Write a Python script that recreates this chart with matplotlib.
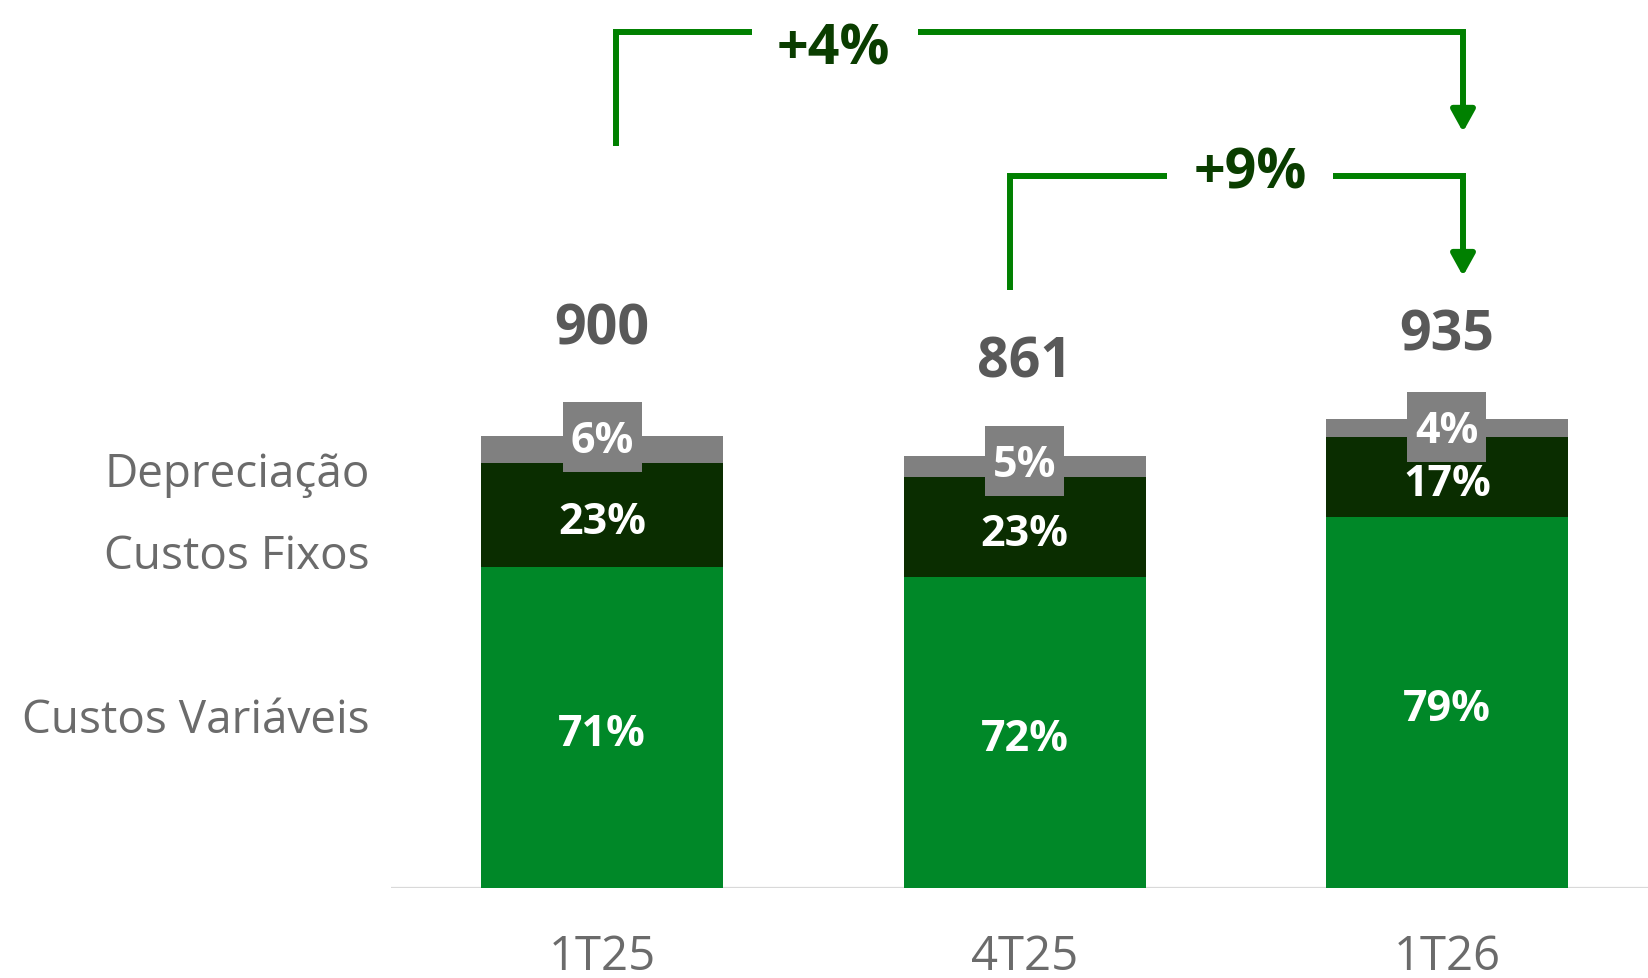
import matplotlib
matplotlib.use('Agg')
import matplotlib.pyplot as plt
from matplotlib.patches import Rectangle
from matplotlib.transforms import blended_transform_factory, offset_copy

# data
periods = ['1T25', '4T25', '1T26']
totals = [900, 861, 935]
var_share = [71, 72, 79]
fix_share = [23, 23, 17]
dep_share = [6, 5, 4]
series_names = ['Custos Variáveis', 'Custos Fixos', 'Depreciação']
growth_labels = ['+4%', '+9%']

# styling
GREEN = '#008828'
DARK = '#0A2D00'
GRAY = '#808080'
LINE_GREEN = '#008000'
TEXT_GREEN = '#0A3D00'
LABEL_GRAY = '#6B6B6B'
TOTAL_GRAY = '#595959'
FONT = 'Open Sans'

plt.rcParams['font.family'] = [FONT, 'DejaVu Sans']

fig = plt.figure(figsize=(16.48, 9.79), dpi=100)
ax = fig.add_axes([391 / 1648, 90 / 979, 1 - 391 / 1648, 889 / 979])
ax.set_xlim(-0.5, 2.476)
ax.set_ylim(0, 1771)
ax.axis('off')
ax.axhline(0, color='#D9D9D9', lw=1.6, zorder=1)

# text sits a little low in the original, nudge it down a few pixels
data_down = offset_copy(ax.transData, fig=fig, y=-6, units='dots')

x = list(range(len(periods)))
width = 0.573

var_vals = [t * s / 100 for t, s in zip(totals, var_share)]
fix_vals = [t * s / 100 for t, s in zip(totals, fix_share)]
dep_vals = [t * s / 100 for t, s in zip(totals, dep_share)]

ax.bar(x, var_vals, width, color=GREEN, zorder=2)
ax.bar(x, fix_vals, width, bottom=var_vals, color=DARK, zorder=2)
bot2 = [a + b for a, b in zip(var_vals, fix_vals)]
ax.bar(x, dep_vals, width, bottom=bot2, color=GRAY, zorder=2)

# segment labels
for i in x:
    ax.text(i, var_vals[i] / 2, f'{var_share[i]}%', ha='center', va='center',
            color='white', fontsize=31, fontweight='bold', zorder=4,
            transform=data_down)
    ax.text(i, var_vals[i] + fix_vals[i] / 2, f'{fix_share[i]}%', ha='center',
            va='center', color='white', fontsize=31, fontweight='bold', zorder=4,
            transform=data_down)

# depreciation labels in gray boxes
dep_offsets = [25, 11, 2]
box_w, box_h = 0.187, 139
for i in x:
    yc = bot2[i] + dep_vals[i] / 2 + dep_offsets[i]
    ax.add_patch(Rectangle((i - box_w / 2, yc - box_h / 2), box_w, box_h,
                           facecolor=GRAY, edgecolor='none', zorder=3))
    ax.text(i, yc, f'{dep_share[i]}%', ha='center', va='center', color='white',
            fontsize=31, fontweight='bold', zorder=4,
            transform=offset_copy(ax.transData, fig=fig, y=-3, units='dots'))

# totals
total_offsets = [225, 199, 179]
for i in x:
    ax.text(i, totals[i] + total_offsets[i], f'{totals[i]}', ha='center',
            va='center', color=TOTAL_GRAY, fontsize=40, fontweight='bold',
            transform=data_down)

# category labels under bars
trans = blended_transform_factory(ax.transData, ax.transAxes)
for i in x:
    ax.text(i, -0.077, periods[i], transform=trans, ha='center', va='center',
            color=LABEL_GRAY, fontsize=34)

# series names on the left
name_y = [721, 557, 475]
for name, yp in zip(series_names, name_y):
    fig.text(370 / 1648, 1 - yp / 979, name, ha='right', va='center',
             color=LABEL_GRAY, fontsize=33)

# growth brackets
brackets = [
    # x_left, x_right, y_bottom, y_top, arrow_tip, gap_left, gap_right, text_x, text_y
    (0.033, 2.038, 1478, 1705, 1506, 0.355, 0.748, 0.547, 1683),
    (0.966, 2.038, 1191, 1418, 1219, 1.337, 1.730, 1.534, 1436),
]
for (xl, xr, yb, yt, tip, gl, gr, tx, ty), lab in zip(brackets, growth_labels):
    ax.plot([xl, xl, gl], [yb, yt, yt], color=LINE_GREEN, lw=4.3,
            solid_joinstyle='miter', solid_capstyle='butt', clip_on=False)
    ax.plot([gr, xr, xr], [yt, yt, tip + 20], color=LINE_GREEN, lw=4.3,
            solid_joinstyle='miter', solid_capstyle='butt', clip_on=False)
    ax.annotate('', xy=(xr, tip), xytext=(xr, tip + 40),
                arrowprops=dict(arrowstyle='-|>,head_length=0.65,head_width=0.36',
                                mutation_scale=20, color=LINE_GREEN, lw=4.3,
                                shrinkA=0, shrinkB=0))
    ax.text(tx, ty, lab, ha='center', va='center', color=TEXT_GREEN,
            fontsize=40, fontweight='bold', transform=data_down)

fig.savefig('out.png', dpi=100)
